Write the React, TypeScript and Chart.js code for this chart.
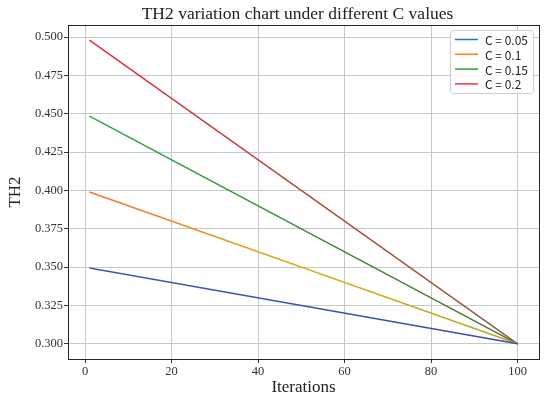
import React, { useEffect, useRef } from "react";
import { Chart, registerables } from "chart.js";

Chart.register(...registerables);

const iterations = [1, 100];
const seriesLabels = ["C = 0.05", "C = 0.1", "C = 0.15", "C = 0.2"];
const c005 = [0.3495, 0.3];
const c01 = [0.399, 0.3];
const c015 = [0.4485, 0.3];
const c02 = [0.498, 0.3];
const xTicks = [0, 20, 40, 60, 80, 100];
const yTicks = [0.3, 0.325, 0.35, 0.375, 0.4, 0.425, 0.45, 0.475, 0.5];
const titleText = "TH2 variation chart under different C values";

const legendColors = ["#1f77b4", "#ff7f0e", "#2ca02c", "#f0304a"];
const lineGradients: string[][] = [
  ["#3a5cb8", "#4048b0"],
  ["#ff6a2a", "#d8b020", "#a8a830"],
  ["#1fb040", "#3f8a34", "#5a6a30"],
  ["#f0283a", "#b04a3e", "#8a6040"],
];

const serif = "'Liberation Serif', 'DejaVu Serif', serif";
const sans = "'Noto Sans CJK SC', 'DejaVu Sans', sans-serif";

export default function App() {
  const ref = useRef<HTMLCanvasElement>(null);
  useEffect(() => {
    document.body.style.margin = "0";
    const canvas = ref.current!;
    const all = [c005, c01, c015, c02];
    const gradFor = (i: number) => (ctx: any) => {
      const chart = ctx.chart;
      const area = chart.chartArea;
      if (!area) return legendColors[i];
      const g = chart.ctx.createLinearGradient(area.left, 0, area.right, 0);
      const stops = lineGradients[i];
      stops.forEach((c, k) => g.addColorStop(k / (stops.length - 1), c));
      return g;
    };
    const framePlugin = {
      id: "frame",
      afterDraw(chart: any) {
        const { ctx, chartArea: a } = chart;
        ctx.save();
        // title
        ctx.fillStyle = "#222";
        ctx.font = `17.5px ${serif}`;
        ctx.textAlign = "center";
        ctx.textBaseline = "middle";
        ctx.fillText(titleText, (a.left + a.right) / 2 - 6, 14);
        // frame
        ctx.strokeStyle = "#262626";
        ctx.lineWidth = 1;
        ctx.strokeRect(Math.round(a.left) + 0.5, Math.round(a.top) + 0.5, Math.round(a.right - a.left), Math.round(a.bottom - a.top));
        // legend
        const bx = a.right - 89, by = a.top + 5, bw = 83, bh = 63;
        ctx.fillStyle = "rgba(255,255,255,0.85)";
        ctx.strokeStyle = "#d0d0d0";
        ctx.beginPath();
        (ctx as any).roundRect(bx + 0.5, by + 0.5, bw, bh, 3);
        ctx.fill();
        ctx.stroke();
        ctx.font = `12px ${sans}`;
        ctx.textBaseline = "middle";
        ctx.textAlign = "left";
        seriesLabels.forEach((lab, i) => {
          const y = by + 9.5 + i * 14.8;
          ctx.strokeStyle = legendColors[i];
          ctx.lineWidth = 1.5;
          ctx.beginPath();
          ctx.moveTo(bx + 5, y);
          ctx.lineTo(bx + 28, y);
          ctx.stroke();
          ctx.fillStyle = "#222";
          ctx.fillText(lab, bx + 35, y + 1);
        });
        ctx.restore();
      },
    };
    const chart = new Chart(canvas, {
      type: "line",
      data: {
        datasets: all.map((vals, i) => ({
          label: seriesLabels[i],
          data: iterations.map((x, k) => ({ x, y: vals[k] })),
          borderColor: gradFor(i),
          borderWidth: 1.5,
          pointRadius: 0,
          fill: false,
          tension: 0,
        })),
      },
      options: {
        animation: false,
        responsive: false,
        layout: { padding: { left: 0, right: 11, top: 25, bottom: 0 } },
        plugins: {
          legend: { display: false },
          tooltip: { enabled: false },
          title: { display: false },
        },
        scales: {
          x: {
            type: "linear",
            min: -3.95,
            max: 104.95,
            afterBuildTicks: (s: any) => {
              s.ticks = xTicks.map((v) => ({ value: v }));
            },
            afterFit: (s: any) => {
              s.height = 39;
            },
            ticks: {
              color: "#333",
              font: { family: serif, size: 12.5 },
              padding: 1,
              maxRotation: 0,
              autoSkip: false,
            },
            grid: { color: "#c8c8c8", lineWidth: 1, tickColor: "#333", tickLength: 4 },
            border: { display: false },
            title: {
              display: true,
              text: "Iterations",
              color: "#222",
              font: { family: serif, size: 17 },
              padding: { top: 0, bottom: 0 },
            },
          },
          y: {
            type: "linear",
            min: 0.2901,
            max: 0.5079,
            afterBuildTicks: (s: any) => {
              s.ticks = yTicks.map((v) => ({ value: v }));
            },
            afterFit: (s: any) => {
              s.width = 68;
            },
            ticks: {
              color: "#333",
              font: { family: serif, size: 12.5 },
              padding: 1,
              callback: (v: any) => Number(v).toFixed(3),
            },
            grid: { color: "#c8c8c8", lineWidth: 1, tickColor: "#333", tickLength: 4 },
            border: { display: false },
            title: {
              display: true,
              text: "TH2",
              color: "#222",
              font: { family: serif, size: 17 },
              padding: { top: 5, bottom: 0 },
            },
          },
        },
      },
      plugins: [framePlugin],
    });
    return () => chart.destroy();
  }, []);
  return <canvas ref={ref} width={550} height={398} style={{ display: "block" }} />;
}
